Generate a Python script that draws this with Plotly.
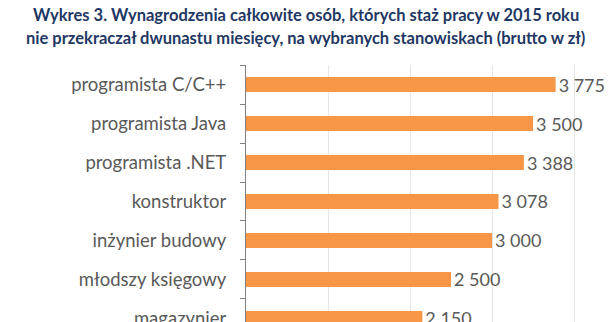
import plotly.graph_objects as go

categories = ["programista C/C++", "programista Java", "programista .NET", "konstruktor",
              "inżynier budowy", "młodszy księgowy", "magazynier"]
values = [3775, 3500, 3388, 3078, 3000, 2500, 2150]
labels = [f"{v:,}".replace(",", " ") for v in values]

title_line1 = "Wykres 3. Wynagrodzenia całkowite osób, których staż pracy w 2015 roku"
title_line2 = "nie przekraczał dwunastu miesięcy, na wybranych stanowiskach (brutto w zł)"

W, H = 611, 322
ML, MR, MT, MB = 246, 0, 65, 0

fig = go.Figure(go.Bar(
    x=values, y=categories, orientation="h",
    marker=dict(color="#F79646", line=dict(width=0)),
    text=labels, textposition="outside", constraintext="none",
    textfont=dict(family="Lato", size=18, color="#595959"),
    cliponaxis=False, width=0.38,
))

title_font = dict(family="Lato", size=16.5, color="#1F3864")
cx = (W / 2 - ML) / (W - ML - MR)
ph = H - MT - MB
fig.add_annotation(text="<b>" + title_line1 + "</b>", xref="paper", yref="paper",
                   x=cx, y=1 + (MT - 15) / ph, showarrow=False, font=title_font,
                   xanchor="center", yanchor="middle")
fig.add_annotation(text="<b>" + title_line2 + "</b>", xref="paper", yref="paper",
                   x=cx, y=1 + (MT - 38) / ph, showarrow=False, font=title_font,
                   xanchor="center", yanchor="middle")

fig.update_layout(
    width=W, height=H, margin=dict(l=ML, r=MR, t=MT, b=MB, autoexpand=False),
    paper_bgcolor="white", plot_bgcolor="white", showlegend=False,
)
fig.update_xaxes(range=[0, 4450], showticklabels=False, showgrid=True,
                 gridcolor="#E6E6E6", gridwidth=1, dtick=1000, zeroline=False,
                 showline=False, ticks="", automargin=False)
fig.update_yaxes(type="category", categoryorder="array", categoryarray=categories,
                 range=[6.09, -0.5], showline=True, linecolor="#808080", linewidth=1,
                 ticks="outside", ticklen=5, tickcolor="#808080", tickson="boundaries",
                 tickfont=dict(family="Lato", size=18.5, color="#595959"),
                 ticklabelstandoff=15, showgrid=False, automargin=False)

fig.write_html("out.html")
